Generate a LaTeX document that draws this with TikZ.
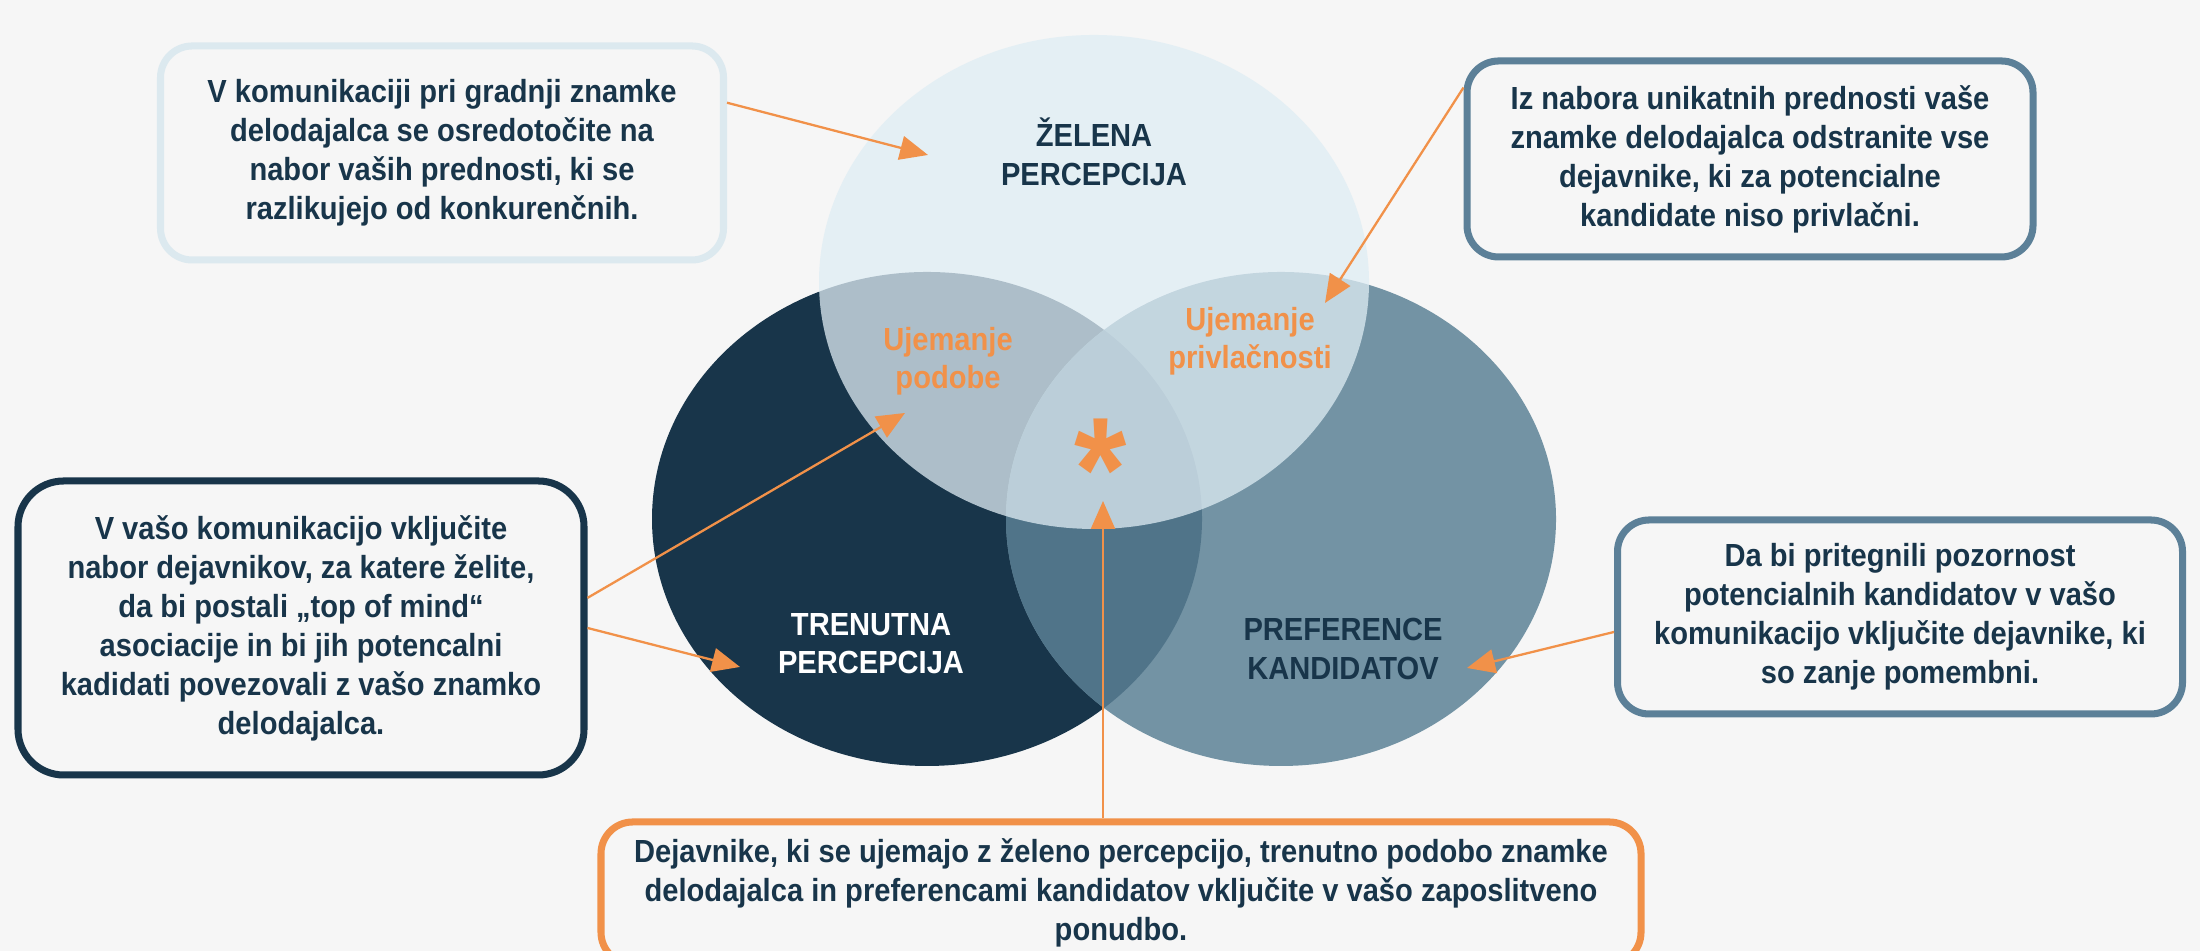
\documentclass[tikz,border=0pt]{standalone}
\usepackage{fontspec}
\setmainfont{Liberation Sans}[FakeStretch=0.91]
\usepackage{tikz}
\usetikzlibrary{arrows.meta}
\definecolor{BrandNavy}{HTML}{18354A}
\definecolor{BrandSteel}{HTML}{7393A4}
\definecolor{BrandMix}{HTML}{507489}
\definecolor{BrandMist}{HTML}{DFEDF4}
\definecolor{BrandFrame}{HTML}{5C8098}
\definecolor{BrandPale}{HTML}{DCE9EF}
\definecolor{BrandOrange}{HTML}{F19149}
\definecolor{PageGray}{HTML}{F6F6F6}
\tikzset{
  infobox/.style={draw, line width=2pt, fill=PageGray, rounded corners=9pt, align=center,
                  text=BrandNavy, font=\fontsize{9.1}{11.1}\selectfont\bfseries, inner sep=0pt},
  setlabel/.style={align=center, font=\fontsize{9.1}{10.9}\selectfont\bfseries},
  matchlabel/.style={setlabel, text=BrandOrange},
  callarr/.style={-{Triangle[length=2.8mm, width=2.4mm]}, line width=0.65pt, BrandOrange}
}

\begin{document}
\begin{tikzpicture}[vennrad/.style={x radius=2.75, y radius=2.47}]
\useasboundingbox (0,0) rectangle (22,9.51);
\fill[PageGray] (0,0) rectangle (22,9.51);
% the three sets
\fill[BrandNavy] (9.27,4.32) ellipse [vennrad];
\fill[BrandSteel] (12.81,4.32) ellipse [vennrad];
\begin{scope}
  \clip (9.27,4.32) ellipse [vennrad];
  \fill[BrandMix] (12.81,4.32) ellipse [vennrad];
\end{scope}
\fill[BrandMist, fill opacity=0.75] (10.94,6.69) ellipse [vennrad];
% set labels
\node[setlabel, text=BrandNavy] (wish) at (10.94,7.99) {ŽELENA\\PERCEPCIJA};
\node[setlabel, text=white] (now) at (8.71,3.07) {TRENUTNA\\PERCEPCIJA};
\node[setlabel, text=BrandNavy] (pref) at (13.43,3.02) {PREFERENCE\\KANDIDATOV};
\node[matchlabel] (image) at (9.48,5.90) {Ujemanje\\podobe};
\node[matchlabel] (appeal) at (12.50,6.10) {Ujemanje\\privlačnosti};
\node[text=BrandOrange, font=\fontsize{42}{42}\selectfont\bfseries, anchor=base, inner sep=0pt] (star) at (11.01,4.30) {*};
% arrow tips
\coordinate (tipwish) at (9.28,7.96);
\coordinate (tipappeal) at (13.25,6.48);
\coordinate (tipimage) at (9.05,5.38);
\coordinate (tipnow) at (7.40,2.84);
\coordinate (tippref) at (14.67,2.83);
\coordinate (tipstar) at (11.03,4.50);
% callout boxes
\node[infobox, draw=BrandPale, minimum width=5.63cm, minimum height=2.14cm] (tl) at (4.42,7.98)
  {V komunikaciji pri gradnji znamke\\delodajalca se osredotočite na\\nabor vaših prednosti, ki se\\razlikujejo od konkurenčnih.};
\node[infobox, draw=BrandFrame, minimum width=5.66cm, minimum height=1.96cm] (tr) at (17.50,7.92)
  {Iz nabora unikatnih prednosti vaše\\znamke delodajalca odstranite vse\\dejavnike, ki za potencialne\\kandidate niso privlačni.};
\node[infobox, draw=BrandNavy, rounded corners=13pt, minimum width=5.66cm, minimum height=2.94cm] (lt) at (3.01,3.23)
  {V vašo komunikacijo vključite\\nabor dejavnikov, za katere želite,\\da bi postali „top of mind“\\asociacije in bi jih potencalni\\kadidati povezovali z vašo znamko\\delodajalca.};
\node[infobox, draw=BrandFrame, minimum width=5.65cm, minimum height=1.94cm] (rt) at (19.00,3.34)
  {Da bi pritegnili pozornost\\potencialnih kandidatov v vašo\\komunikacijo vključite dejavnike, ki\\so zanje pomembni.};
\node[infobox, draw=BrandOrange, minimum width=10.40cm, minimum height=1.42cm] (bt) at (11.21,0.58)
  {Dejavnike, ki se ujemajo z želeno percepcijo, trenutno podobo znamke\\delodajalca in preferencami kandidatov vključite v vašo zaposlitveno\\ponudbo.};
% callout arrows
\draw[callarr] (tl.10) -- (tipwish);
\draw[callarr] (tr.166) -- (tipappeal);
\draw[callarr] (lt.6) -- (tipimage);
\draw[callarr] (lt.east) -- (tipnow);
\draw[callarr] (rt.183) -- (tippref);
\draw[callarr] (bt.north -| tipstar) -- (tipstar);
\end{tikzpicture}
\end{document}
